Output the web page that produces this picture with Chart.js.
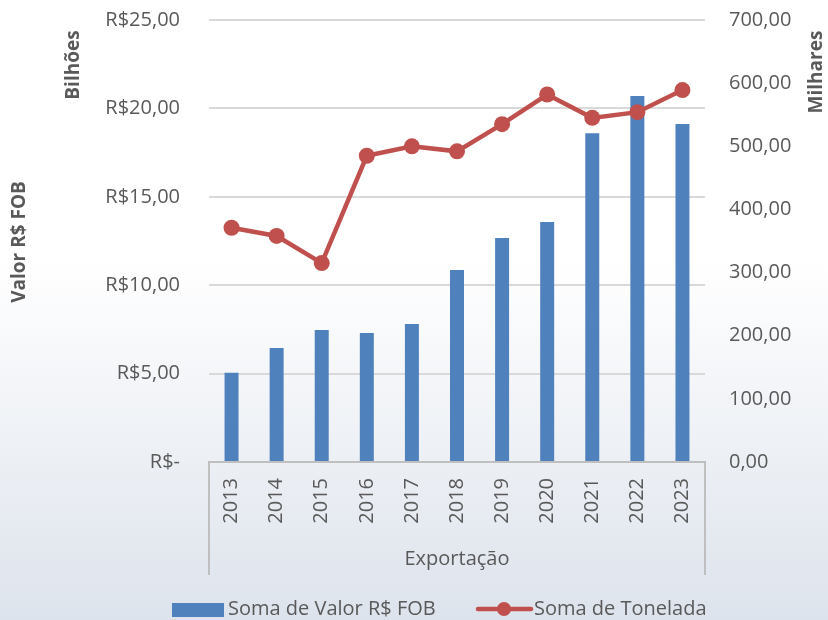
<!DOCTYPE html>
<html>
<head>
<meta charset="utf-8">
<script src="https://cdn.jsdelivr.net/npm/chart.js@4"></script>
<style>
  html, body { margin: 0; padding: 0; background: #fff; }
  #wrap { width: 828px; height: 620px; position: relative; }
</style>
</head>
<body>
<div id="wrap"><canvas id="chart" width="828" height="620"></canvas></div>
<script>
// ── DATA ─────────────────────────────────────────
const years     = ['2013','2014','2015','2016','2017','2018','2019','2020','2021','2022','2023'];
const valorFob  = [5.05, 6.45, 7.47, 7.3, 7.8, 10.86, 12.67, 13.57, 18.6, 20.7, 19.12];   // bilhões
const toneladas = [371, 358, 315, 485, 500, 492, 535, 582, 545, 554, 589];                // milhares
const leftTicks  = [0, 5, 10, 15, 20, 25];
const rightTicks = [0, 100, 200, 300, 400, 500, 600, 700];

// ── STYLE ────────────────────────────────────────
const FONT  = '"Open Sans", "Noto Sans", sans-serif';
const GRAY  = '#595959';
const BLUE  = '#4f81bd';
const RED   = '#c0504d';
const PLOT  = { left: 209, right: 705, top: 20, bottom: 462 };

const fmt = v => v.toFixed(2).replace('.', ',');

// ── PLUGINS ──────────────────────────────────────
const background = {
  id: 'background',
  beforeDraw(chart) {
    const { ctx, width, height } = chart;
    const g = ctx.createLinearGradient(0, 0, 0, height);
    g.addColorStop(0, '#ffffff');
    g.addColorStop(0.42, '#ffffff');
    g.addColorStop(1, '#dde3ec');
    ctx.save();
    ctx.fillStyle = g;
    ctx.fillRect(0, 0, width, height);
    ctx.restore();
  },
};

const decorations = {
  id: 'decorations',
  afterDraw(chart) {
    const { ctx, chartArea } = chart;
    ctx.save();

    // category box (multi-level axis)
    ctx.strokeStyle = '#bfbfbf';
    ctx.lineWidth = 2;
    ctx.beginPath();
    ctx.moveTo(chartArea.left, chartArea.bottom);
    ctx.lineTo(chartArea.left, 575);
    ctx.moveTo(chartArea.right, chartArea.bottom);
    ctx.lineTo(chartArea.right, 575);
    ctx.stroke();

    ctx.fillStyle = GRAY;
    ctx.font = `20px ${FONT}`;
    ctx.textAlign = 'center';
    ctx.textBaseline = 'middle';
    ctx.fillText('Exportação', (chartArea.left + chartArea.right) / 2, 559);

    // axis titles
    ctx.font = `bold 19px ${FONT}`;
    const vtext = (txt, x, y) => {
      ctx.save();
      ctx.translate(x, y);
      ctx.rotate(-Math.PI / 2);
      ctx.fillText(txt, 0, 0);
      ctx.restore();
    };
    vtext('Bilhões', 74, 65);
    vtext('Valor R$ FOB', 20, 242);
    vtext('Milhares', 817, 72);

    // legend
    ctx.font = `20px ${FONT}`;
    ctx.textAlign = 'left';
    ctx.fillStyle = BLUE;
    ctx.fillRect(172, 603, 52, 14);
    ctx.fillStyle = GRAY;
    ctx.fillText('Soma de Valor R$ FOB', 228, 609);

    ctx.strokeStyle = RED;
    ctx.lineWidth = 4.5;
    ctx.lineCap = 'round';
    ctx.beginPath();
    ctx.moveTo(478, 609);
    ctx.lineTo(531, 609);
    ctx.stroke();
    ctx.fillStyle = RED;
    ctx.beginPath();
    ctx.arc(504, 609, 7, 0, Math.PI * 2);
    ctx.fill();
    ctx.fillStyle = GRAY;
    ctx.fillText('Soma de Tonelada', 534, 609);

    ctx.restore();
  },
};

const noPad = s => { s.paddingTop = 0; s.paddingBottom = 0; };

// ── CHART ────────────────────────────────────────
new Chart(document.getElementById('chart').getContext('2d'), {
  data: {
    labels: years,
    datasets: [
      {
        type: 'line',
        label: 'Soma de Tonelada',
        data: toneladas,
        yAxisID: 'y1',
        borderColor: RED,
        backgroundColor: RED,
        borderWidth: 4.5,
        pointRadius: 8,
        pointBorderWidth: 0,
        tension: 0,
        order: 0,
      },
      {
        type: 'bar',
        label: 'Soma de Valor R$ FOB',
        data: valorFob,
        yAxisID: 'y',
        backgroundColor: BLUE,
        borderWidth: 0,
        barPercentage: 0.31,
        categoryPercentage: 1,
        order: 1,
      },
    ],
  },
  options: {
    responsive: false,
    animation: false,
    layout: { padding: { top: PLOT.top, left: 0, right: 0, bottom: 0 } },
    plugins: {
      legend: { display: false },
      tooltip: { enabled: false },
    },
    scales: {
      x: {
        position: 'bottom',
        grid: { display: false, drawTicks: false },
        border: { display: true, color: '#bfbfbf', width: 2 },
        ticks: {
          color: GRAY,
          font: { family: FONT, size: 20 },
          minRotation: 90,
          maxRotation: 90,
          padding: 16,
        },
        afterFit: s => { s.height = 620 - PLOT.bottom; s.paddingLeft = 0; s.paddingRight = 0; },
      },
      y: {
        position: 'left',
        min: 0,
        max: 25,
        afterBuildTicks: s => { s.ticks = leftTicks.map(v => ({ value: v })); },
        grid: { color: '#d9d9d9', lineWidth: 2, drawTicks: false },
        border: { display: false },
        ticks: {
          color: GRAY,
          font: { family: FONT, size: 20 },
          padding: 29,
          callback: v => v === 0 ? 'R$-' : 'R$' + fmt(v),
        },
        afterFit: s => { s.width = PLOT.left; noPad(s); },
      },
      y1: {
        position: 'right',
        min: 0,
        max: 700,
        afterBuildTicks: s => { s.ticks = rightTicks.map(v => ({ value: v })); },
        grid: { display: false, drawTicks: false },
        border: { display: false },
        ticks: {
          color: GRAY,
          font: { family: FONT, size: 20 },
          padding: 24,
          callback: v => fmt(v),
        },
        afterFit: s => { s.width = 828 - PLOT.right; noPad(s); },
      },
    },
  },
  plugins: [background, decorations],
});
</script>
</body>
</html>
